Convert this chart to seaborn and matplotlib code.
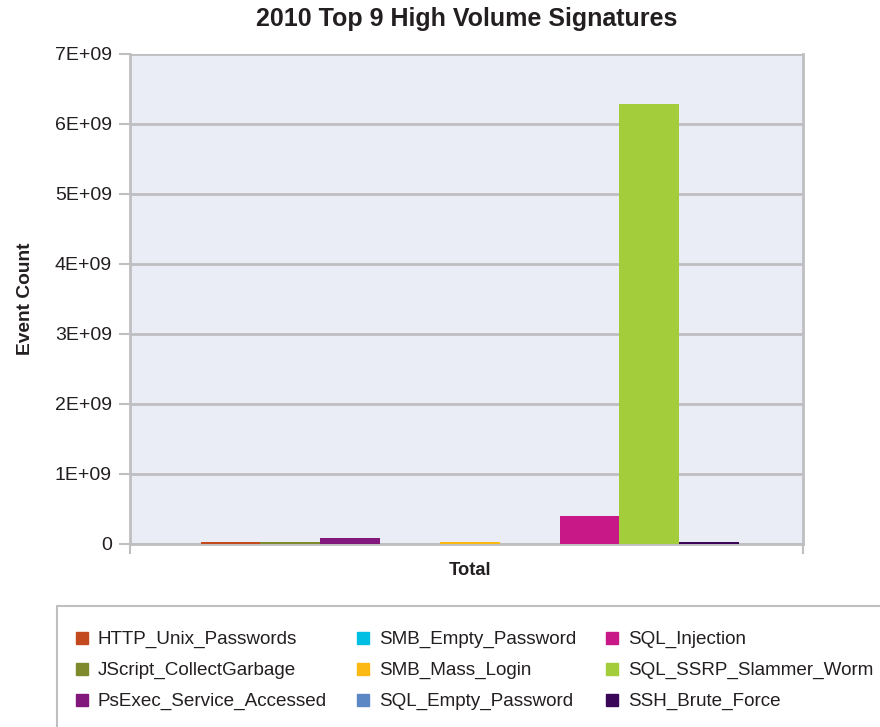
import matplotlib
matplotlib.use("Agg")
import matplotlib.pyplot as plt
from matplotlib.lines import Line2D
from matplotlib.patches import Rectangle
import seaborn as sns
import pandas as pd

signatures = [
    "HTTP_Unix_Passwords", "JScript_CollectGarbage", "PsExec_Service_Accessed",
    "SMB_Empty_Password", "SMB_Mass_Login", "SQL_Empty_Password",
    "SQL_Injection", "SQL_SSRP_Slammer_Worm", "SSH_Brute_Force",
]
event_counts = [
    3.5e7, 3.5e7, 9.0e7,
    4.0e6, 3.5e7, 4.0e6,
    4.0e8, 6.29e9, 3.5e7,
]
colors = [
    "#C24A1E", "#7E8A2C", "#82187C",
    "#00BFE3", "#FDB913", "#5B87C5",
    "#C81887", "#A3CD3B", "#3A0657",
]
group = "Total"
y_ticks = [0, 1e9, 2e9, 3e9, 4e9, 5e9, 6e9, 7e9]
y_tick_labels = ["0", "1E+09", "2E+09", "3E+09", "4E+09", "5E+09", "6E+09", "7E+09"]

df = pd.DataFrame({"signature": signatures, "count": event_counts, "group": group})
palette = dict(zip(signatures, colors))

sns.set_theme(style="white")
plt.rcParams["font.family"] = ["Liberation Sans", "DejaVu Sans"]

grid_gray = "#BFBFC2"
text_col = "#231F20"

fig = plt.figure(figsize=(8.8, 7.27), dpi=100)
ax = fig.add_axes([130 / 880, 1 - 544 / 727, 673 / 880, 490 / 727])
ax.set_facecolor("#EAECF6")

sns.barplot(data=df, x="group", y="count", hue="signature", hue_order=signatures,
            palette=palette, saturation=1, width=0.8, legend=False, ax=ax,
            linewidth=0, zorder=3)

ax.set_xlim(-0.505, 0.495)
ax.set_ylim(0, 7e9)
ax.set_yticks(y_ticks)
ax.set_yticklabels(y_tick_labels, fontsize=14, color=text_col)
ax.yaxis.grid(True, color=grid_gray, linewidth=2)
ax.set_axisbelow(True)
ax.tick_params(axis="y", length=8, width=1.5, color=grid_gray, pad=5, left=True, right=False)
ax.tick_params(axis="x", length=0, pad=13, top=False)
for lbl in ax.get_xticklabels():
    lbl.set_fontsize(13.2)
    lbl.set_fontweight("bold")
    lbl.set_color(text_col)
ax.set_xticks([-0.505, 0.495], minor=True)
ax.tick_params(axis="x", which="minor", length=7, width=1.5, color=grid_gray,
               bottom=True, top=False)

for side in ["left", "right", "bottom", "top"]:
    ax.spines[side].set_color(grid_gray)
    ax.spines[side].set_linewidth(2)
ax.spines["top"].set_visible(False)

ax.set_xlabel("")
ax.set_ylabel("Event Count", fontsize=13.8, fontweight="bold", color=text_col, labelpad=15)
ax.set_title("2010 Top 9 High Volume Signatures", fontsize=18, fontweight="bold",
             color=text_col, pad=20)

# legend frame running off the right/bottom edge
fig.patches.append(Rectangle((57 / 880, -0.05), 0.95, 1 - 606 / 727 + 0.05,
                             transform=fig.transFigure, fill=False,
                             edgecolor=grid_gray, linewidth=1.5))

handles = [Line2D([0], [0], marker="s", linestyle="", markersize=8,
                  markerfacecolor=c, markeredgecolor=c) for c in colors]
fig.legend(handles, signatures, loc="upper left",
           bbox_to_anchor=(75 / 880, 1 - 631 / 727), ncol=3, frameon=False,
           fontsize=13.6, labelcolor=text_col, handlelength=0.75,
           handletextpad=0.45, columnspacing=1.55, labelspacing=0.72,
           borderpad=0, borderaxespad=0)

fig.savefig("out.png", dpi=100)
